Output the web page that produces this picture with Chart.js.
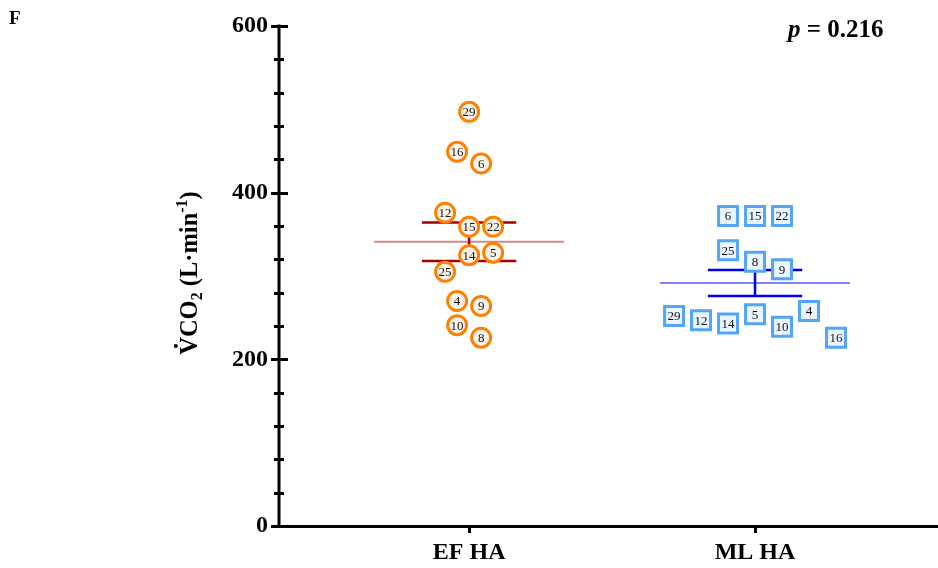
<!DOCTYPE html>
<html lang="en">
<head>
<meta charset="utf-8">
<title>VCO2 by group</title>
<script src="https://cdn.jsdelivr.net/npm/chart.js@4.4.1/dist/chart.umd.min.js"></script>
<style>
    html, body { margin: 0; padding: 0; background: #fff; }
    canvas { display: block; }
</style>
</head>
<body>
<canvas id="chart-vco2" width="938" height="568"></canvas>
<script>
// Group names on the x axis
const GROUPS = ['EF HA', 'ML HA'];

// EF HA: subject ids, VCO2 (L·min-1) and beeswarm column
const EF_IDS = [29, 16, 6, 12, 15, 22, 14, 5, 25, 4, 9, 10, 8];
const EF_VALUES = [497, 449, 435, 376, 359, 359, 325, 328, 305, 270, 264, 241, 226];
const EF_COLUMNS = [0, -1, 1, -2, 0, 2, 0, 2, -2, -1, 1, -1, 1];

// ML HA: subject ids, VCO2 (L·min-1) and beeswarm column
const ML_IDS = [6, 15, 22, 25, 8, 9, 29, 12, 14, 5, 10, 4, 16];
const ML_VALUES = [372, 372, 372, 331, 317, 308, 252, 247, 243, 254, 239, 258, 226];
const ML_COLUMNS = [-1, 0, 1, -1, 0, 1, -3, -2, -1, 0, 1, 2, 3];

// y axis labels and the reported p value
const Y_TICKS = [0, 200, 400, 600];
const Y_MINOR_STEP = 40;
const P_VALUE = '0.216';

const SERIF = '"Liberation Serif", "Times New Roman", serif';

/**
 * mean and standard error of a list of values
 */
function meanSem(values) {
    const n = values.length;
    const mean = values.reduce((a, b) => a + b, 0) / n;
    const sd = Math.sqrt(values.reduce((a, v) => a + (v - mean) ** 2, 0) / (n - 1));
    return { mean, sem: sd / Math.sqrt(n) };
}

/**
 * points of a group, spread sideways by column
 */
function swarm(group, values, columns, step) {
    return values.map((v, i) => ({ x: group + columns[i] * step, y: v }));
}

/**
 * mean line plus the SEM whisker (two caps and a stem) as one broken path
 */
function statLines(group, values) {
    const { mean, sem } = meanSem(values);
    const cap = 0.165;
    const half = 0.332;
    return {
        mean: [{ x: group - half, y: mean }, { x: group + half, y: mean }],
        sem: [
            { x: group - cap, y: mean + sem }, { x: group + cap, y: mean + sem },
            { x: group, y: null },
            { x: group, y: mean + sem }, { x: group, y: mean - sem },
            { x: group, y: null },
            { x: group - cap, y: mean - sem }, { x: group + cap, y: mean - sem }
        ]
    };
}

const efStats = statLines(1, EF_VALUES);
const mlStats = statLines(2, ML_VALUES);

function lineSet(data, color, width, order) {
    return {
        data, showLine: true, spanGaps: false,
        borderColor: color, borderWidth: width,
        pointRadius: 0, order
    };
}

// subject number inside each marker
const markerLabels = {
    id: 'markerLabels',
    afterDatasetsDraw(chart) {
        const ctx = chart.ctx;
        ctx.save();
        ctx.font = `13px ${SERIF}`;
        ctx.fillStyle = '#111';
        ctx.textAlign = 'center';
        ctx.textBaseline = 'middle';
        chart.data.datasets.forEach((ds, i) => {
            if (!ds.ids) return;
            chart.getDatasetMeta(i).data.forEach((pt, j) => {
                ctx.fillText(String(ds.ids[j]), pt.x, pt.y + 1);
            });
        });
        ctx.restore();
    }
};

// y axis line with crossing ticks, axis title, panel letter and p value
const axisDecor = {
    id: 'axisDecor',
    afterDraw(chart) {
        const ctx = chart.ctx;
        const area = chart.chartArea;
        const y = chart.scales.y;
        const ax = area.left;

        ctx.save();
        ctx.strokeStyle = '#000';
        ctx.lineWidth = 3;
        ctx.beginPath();
        ctx.moveTo(ax, y.getPixelForValue(600) - 1.5);
        ctx.lineTo(ax, area.bottom + 1.5);
        ctx.stroke();

        for (let v = 0; v <= 600; v += Y_MINOR_STEP) {
            const py = Math.round(y.getPixelForValue(v)) + 0.5;
            const major = Y_TICKS.includes(v);
            ctx.beginPath();
            ctx.moveTo(ax - (major ? 8 : 5), py);
            ctx.lineTo(ax + (major ? 9 : 5), py);
            ctx.stroke();
        }

        // rotated title: VCO2 (L·min-1) with dot, subscript and superscript
        const size = 24.5;
        const small = 16;
        const parts = [
            { t: 'V', f: size, dy: 0, dot: true },
            { t: 'CO', f: size, dy: 0 },
            { t: '2', f: small, dy: 5 },
            { t: ' (L\u00B7min', f: size, dy: 0 },
            { t: '-1', f: small, dy: -10 },
            { t: ')', f: size, dy: 0 }
        ];
        let total = 0;
        parts.forEach(p => {
            ctx.font = `bold ${p.f}px ${SERIF}`;
            p.w = ctx.measureText(p.t).width;
            total += p.w;
        });
        ctx.translate(197, 273);
        ctx.rotate(-Math.PI / 2);
        ctx.fillStyle = '#000';
        ctx.textBaseline = 'alphabetic';
        ctx.textAlign = 'left';
        let cx = -total / 2;
        parts.forEach(p => {
            ctx.font = `bold ${p.f}px ${SERIF}`;
            ctx.fillText(p.t, cx, p.dy);
            if (p.dot) {
                ctx.beginPath();
                ctx.arc(cx + p.w / 2, -size * 0.66 - 5, 2, 0, Math.PI * 2);
                ctx.fill();
            }
            cx += p.w;
        });
        ctx.restore();

        ctx.save();
        ctx.fillStyle = '#000';
        ctx.textBaseline = 'alphabetic';
        ctx.font = `bold 19px ${SERIF}`;
        ctx.fillText('F', 9, 24);

        ctx.font = `italic bold 25px ${SERIF}`;
        ctx.fillText('p', 788, 37);
        const pw = ctx.measureText('p').width;
        ctx.font = `bold 25px ${SERIF}`;
        ctx.fillText(' = ' + P_VALUE, 788 + pw, 37);
        ctx.restore();
    }
};

function renderChart() {
    const ctx = document.getElementById('chart-vco2').getContext('2d');

    new Chart(ctx, {
        type: 'scatter',
        data: {
            datasets: [
                lineSet(efStats.mean, '#d38787', 2, 4),
                lineSet(efStats.sem, '#a30000', 2.5, 3),
                lineSet(mlStats.mean, '#8282f4', 2, 4),
                lineSet(mlStats.sem, '#0000e8', 2.5, 3),
                {
                    data: swarm(1, EF_VALUES, EF_COLUMNS, 0.042),
                    ids: EF_IDS,
                    pointStyle: 'circle',
                    pointRadius: 9.5,
                    pointBorderWidth: 3,
                    pointBorderColor: '#ff8000',
                    pointBackgroundColor: '#fff4ea',
                    order: 0
                },
                {
                    data: swarm(2, ML_VALUES, ML_COLUMNS, 0.0944),
                    ids: ML_IDS,
                    pointStyle: 'rect',
                    pointRadius: 13.4,
                    pointBorderWidth: 3,
                    pointBorderColor: '#52a5f7',
                    pointBackgroundColor: '#eaf5ff',
                    order: 0
                }
            ]
        },
        options: {
            responsive: false,
            animation: false,
            events: [],
            layout: {
                autoPadding: false,
                padding: { top: 26, right: 0, bottom: 0, left: 0 }
            },
            plugins: {
                legend: { display: false },
                tooltip: { enabled: false }
            },
            scales: {
                x: {
                    type: 'linear',
                    min: 0.335,
                    max: 2.64,
                    afterBuildTicks: s => { s.ticks = GROUPS.map((g, i) => ({ value: i + 1 })); },
                    afterFit: s => {
                        s.height = 42;
                        s.paddingLeft = 0;
                        s.paddingRight = 0;
                    },
                    ticks: {
                        callback: v => GROUPS[v - 1],
                        color: '#000',
                        font: { family: SERIF, size: 24, weight: 'bold' },
                        padding: 5,
                        maxRotation: 0
                    },
                    grid: {
                        display: true,
                        drawOnChartArea: false,
                        drawTicks: true,
                        tickLength: 7,
                        tickWidth: 3,
                        tickColor: '#000'
                    },
                    border: { display: true, color: '#000', width: 3 }
                },
                y: {
                    type: 'linear',
                    min: 0,
                    max: 600,
                    afterBuildTicks: s => { s.ticks = Y_TICKS.map(v => ({ value: v })); },
                    afterFit: s => { s.width = 279; },
                    ticks: {
                        color: '#000',
                        font: { family: SERIF, size: 24, weight: 'bold' },
                        padding: 11
                    },
                    grid: { display: false, drawTicks: false },
                    border: { display: false }
                }
            }
        },
        plugins: [markerLabels, axisDecor]
    });
}

renderChart();
</script>
</body>
</html>
